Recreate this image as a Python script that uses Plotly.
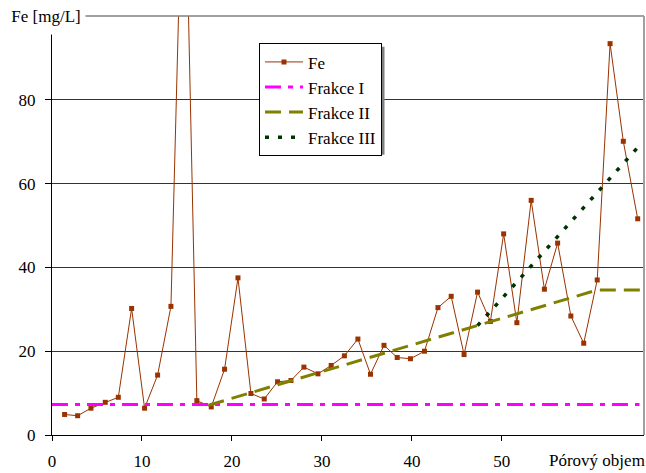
import plotly.graph_objects as go

# ---- data ----
fe_x = [1.4, 2.85, 4.33, 5.92, 7.37, 8.85, 10.29, 11.74, 13.22, 14.67, 16.1, 17.7, 19.18, 20.67, 22.11,
        23.59, 25.07, 26.56, 28.0, 29.56, 31.03, 32.5, 34.0, 35.4, 36.9, 38.37, 39.84, 41.4, 42.9, 44.37,
        45.8, 47.3, 48.73, 50.2, 51.67, 53.26, 54.73, 56.2, 57.67, 59.1, 60.6, 62.03, 63.5, 65.1]
fe_y = [4.9, 4.6, 6.4, 7.8, 9.0, 30.2, 6.4, 14.3, 30.7, 150, 8.2, 6.7, 15.7, 37.5, 9.9,
        8.6, 12.7, 13.0, 16.2, 14.6, 16.6, 18.9, 22.9, 14.5, 21.4, 18.5, 18.2, 20.0, 30.4, 33.1,
        19.2, 34.1, 27.1, 48.0, 26.8, 56.0, 34.8, 45.8, 28.4, 21.9, 37.0, 93.4, 70.1, 51.6]

f1_x = [0, 65.3]
f1_y = [7.3, 7.3]

f2_x = [17.4, 60.6, 65.8]
f2_y = [7.1, 34.6, 34.6]

f3_x = [47.3, 65.3]
f3_y = [26.1, 69.1]

x_ticks = [0, 10, 20, 30, 40, 50]
y_ticks = [0, 20, 40, 60, 80]

FONT = "Liberation Serif"

fig = go.Figure()
fig.add_trace(go.Scatter(x=fe_x, y=fe_y, name="Fe", mode="lines+markers",
                         line=dict(color="#993300", width=1),
                         marker=dict(symbol="square", size=5, color="#993300")))
fig.add_trace(go.Scatter(x=f1_x, y=f1_y, name="Frakce I", mode="lines",
                         line=dict(color="#FF00FF", width=3, dash="16px,7px,5px,7px")))
fig.add_trace(go.Scatter(x=f2_x, y=f2_y, name="Frakce II", mode="lines",
                         line=dict(color="#808000", width=3, dash="16px,8px")))
fig.add_trace(go.Scatter(x=f3_x, y=f3_y, name="Frakce III", mode="lines",
                         line=dict(color="#003300", width=3.5, dash="4px,9px")))

# pixel helpers (plot area: x 52..644, y 16..437)
def px_x(p):
    return (p - 52) / 592.0

def px_y(p):
    return 1 - (p - 16) / 421.0

fig.update_layout(
    width=646, height=473,
    margin=dict(l=52, r=2, t=16, b=36),
    paper_bgcolor="white", plot_bgcolor="white",
    font=dict(family=FONT, size=17, color="black"),
    showlegend=True,
    legend=dict(x=px_x(259), y=px_y(43.5), xanchor="left", yanchor="top",
                bgcolor="white", bordercolor="black", borderwidth=1,
                font=dict(family=FONT, size=17, color="black"),
                itemwidth=38, tracegroupgap=0),
    xaxis=dict(range=[0, 65.8], tickvals=x_ticks, ticktext=[str(v) for v in x_ticks],
               showgrid=False, zeroline=False, showline=True, linecolor="black", linewidth=1,
               ticks="outside", ticklen=5, tickcolor="black", tickwidth=1,
               ticklabelstandoff=6, tickfont=dict(family=FONT, size=17, color="black")),
    yaxis=dict(range=[0, 100], tickvals=y_ticks, ticktext=[str(v) for v in y_ticks],
               showgrid=True, gridcolor="#333333", gridwidth=1,
               zeroline=False, showline=True, linecolor="black", linewidth=1,
               ticks="outside", ticklen=6, tickcolor="black", tickwidth=1,
               ticklabelstandoff=6, tickfont=dict(family=FONT, size=17, color="black")),
    shapes=[
        dict(type="line", xref="paper", yref="paper", x0=0, x1=1, y0=1, y1=1,
             line=dict(color="#808080", width=1.5), layer="above"),
        dict(type="line", xref="paper", yref="paper", x0=1, x1=1, y0=0, y1=1,
             line=dict(color="#A0A0A0", width=2), layer="above"),
        # legend shadow
        dict(type="rect", xref="paper", yref="paper",
             x0=px_x(262), x1=px_x(384.5), y0=px_y(155.5), y1=px_y(47),
             fillcolor="#808080", line=dict(width=0), layer="above"),
    ],
    annotations=[
        dict(text="Fe [mg/L]", xref="paper", yref="paper", x=px_x(45.5), y=px_y(15.5),
             xanchor="center", yanchor="middle", showarrow=False,
             bgcolor="white", width=76, height=34,
             font=dict(family=FONT, size=17, color="black")),
        dict(text="Pórový objem", xref="paper", yref="paper", x=px_x(596.5), y=px_y(463),
             xanchor="center", yanchor="middle", showarrow=False,
             font=dict(family=FONT, size=17, color="black")),
    ],
)

fig.write_html("out.html", config={"displayModeBar": False},
               post_script="document.body.style.margin='0';document.body.style.overflow='hidden';")
